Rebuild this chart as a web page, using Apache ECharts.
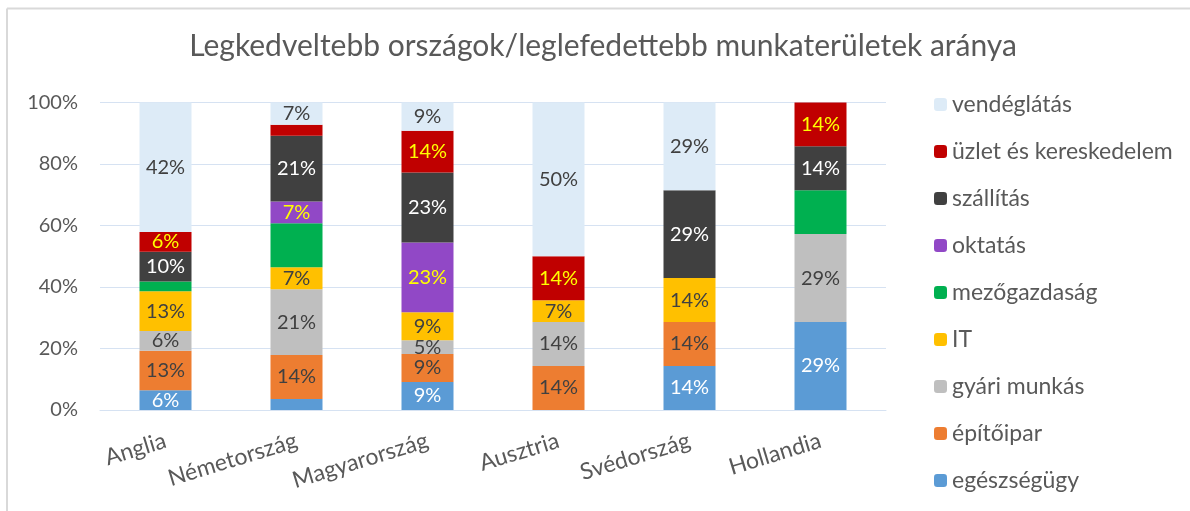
<!DOCTYPE html>
<html>
<head>
<meta charset="utf-8">
<title>Legkedveltebb országok</title>
<script src="https://cdn.jsdelivr.net/npm/echarts/dist/echarts.min.js"></script>
<style>
  html, body { margin: 0; padding: 0; background: #fff; }
  #chart { width: 1190px; height: 511px; }
</style>
</head>
<body>
<div id="chart"></div>
<script>
// kategóriák (országok)
let countries = ['Anglia', 'Németország', 'Magyarország', 'Ausztria', 'Svédország', 'Hollandia'];
// y tengely
let yTicks = [0, 20, 40, 60, 80, 100];

// munkaterületek aránya százalékban, alulról felfelé
let egeszsegugy   = [6.4, 3.6, 9.1, 0, 14.3, 28.6];
let epitoipar     = [12.9, 14.3, 9.1, 14.3, 14.3, 0];
let gyariMunkas   = [6.4, 21.4, 4.5, 14.3, 0, 28.6];
let it            = [12.9, 7.1, 9.1, 7.1, 14.3, 0];
let mezogazdasag  = [3.2, 14.3, 0, 0, 0, 14.3];
let oktatas       = [0, 7.1, 22.7, 0, 0, 0];
let szallitas     = [9.7, 21.4, 22.7, 0, 28.6, 14.3];
let uzlet         = [6.4, 3.6, 13.6, 14.3, 0, 14.2];
let vendeglatas   = [42.1, 7.2, 9.2, 50, 28.5, 0];

let FONT = 'Lato';
let GREY = '#595959';
let LINE = '#D6E2F2';

// név, adat, szín, címke színe (null = nincs címke)
let seriesDef = [
  ['egészségügy', egeszsegugy, '#5B9BD5', '#ffffff'],
  ['építőipar', epitoipar, '#ED7D31', '#404040'],
  ['gyári munkás', gyariMunkas, '#BFBFBF', '#404040'],
  ['IT', it, '#FFC000', '#404040'],
  ['mezőgazdaság', mezogazdasag, '#00B050', null],
  ['oktatás', oktatas, '#9148C6', '#FFFF00'],
  ['szállítás', szallitas, '#404040', '#ffffff'],
  ['üzlet és kereskedelem', uzlet, '#C00000', '#FFFF00'],
  ['vendéglátás', vendeglatas, '#DDEBF7', '#404040']
];

let series = seriesDef.map(function (d) {
  return {
    name: d[0],
    type: 'bar',
    stack: 'total',
    barWidth: 52,
    data: d[1],
    itemStyle: { color: d[2] },
    label: {
      show: d[3] !== null,
      position: 'inside',
      color: d[3] || '#404040',
      fontFamily: FONT,
      fontSize: 20,
      formatter: function (p) {
        // kis szeleteken nincs felirat
        return p.value < 4 ? '' : Math.round(p.value) + '%';
      }
    }
  };
});

let option = {
  animation: false,
  backgroundColor: '#fff',
  title: {
    text: 'Legkedveltebb országok/leglefedettebb munkaterületek aránya',
    left: 598,
    textAlign: 'center',
    top: 26,
    textStyle: { color: GREY, fontFamily: FONT, fontSize: 30, fontWeight: 'normal' }
  },
  legend: {
    orient: 'vertical',
    left: 929,
    top: 88,
    itemWidth: 13,
    itemHeight: 13,
    itemGap: 24,
    data: seriesDef.map(function (d) { return d[0]; }).reverse(),
    textStyle: { color: GREY, fontFamily: FONT, fontSize: 23 }
  },
  grid: { left: 100, right: 304, top: 102.5, bottom: 101 },
  xAxis: {
    type: 'category',
    data: countries,
    axisTick: { show: false },
    axisLine: { lineStyle: { color: LINE, width: 1 } },
    axisLabel: {
      rotate: 17,
      margin: 30,
      interval: 0,
      color: GREY,
      fontFamily: FONT,
      fontSize: 23
    }
  },
  yAxis: {
    type: 'value',
    min: yTicks[0],
    max: yTicks[yTicks.length - 1],
    interval: yTicks[1] - yTicks[0],
    axisLine: { show: false },
    axisTick: { show: false },
    splitLine: { lineStyle: { color: LINE, width: 1 } },
    axisLabel: {
      margin: 22,
      color: GREY,
      fontFamily: FONT,
      fontSize: 20,
      formatter: '{value}%'
    }
  },
  // a diagram kerete (bal és felső szél)
  graphic: [
    { type: 'line', shape: { x1: 7, y1: 8.5, x2: 1190, y2: 8.5 }, style: { stroke: '#D9D9D9', lineWidth: 2 } },
    { type: 'line', shape: { x1: 7, y1: 8.5, x2: 7, y2: 511 }, style: { stroke: '#D9D9D9', lineWidth: 2 } }
  ],
  series: series
};

let myChart = echarts.init(document.getElementById('chart'));
myChart.setOption(option);
</script>
</body>
</html>
